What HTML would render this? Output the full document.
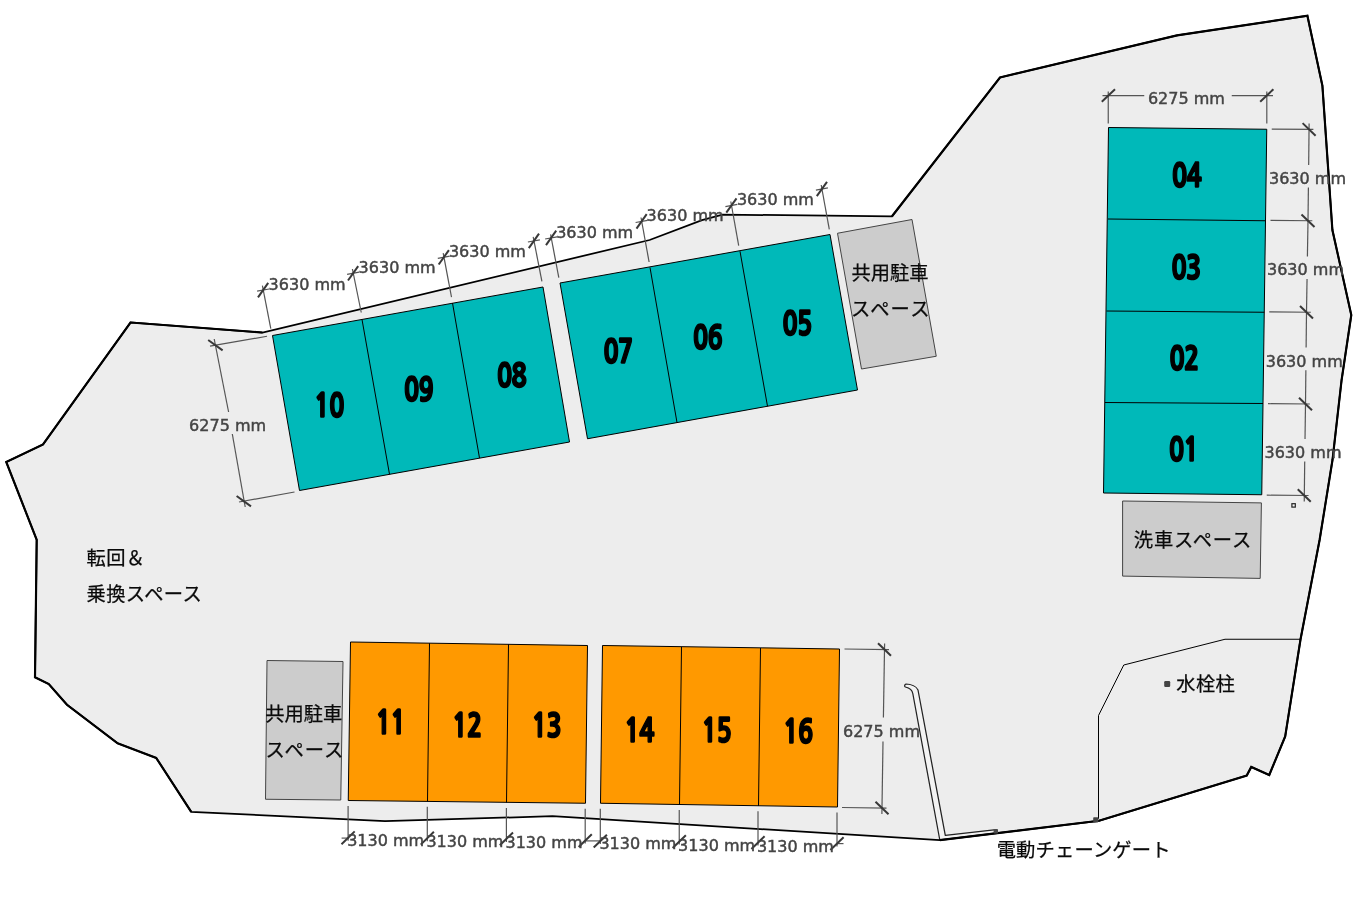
<!DOCTYPE html>
<html lang="ja">
<head>
<meta charset="utf-8">
<title>駐車場 配置図</title>
<style>
html,body{margin:0;padding:0;background:#fff;}
body{width:1370px;height:904px;overflow:hidden;}
svg{display:block;will-change:transform;}
.num{font-family:"NanumGothic","Liberation Sans",sans-serif;font-weight:800;font-size:33.3px;letter-spacing:-0.6px;fill:#000;stroke:#000;stroke-width:1.6px;stroke-linejoin:round;text-anchor:middle;}
.dim{font-family:"DejaVu Sans","Liberation Sans",sans-serif;font-size:16px;fill:#444;stroke:#444;stroke-width:0.45px;}
.jp{font-family:"Liberation Sans","Noto Sans CJK JP",sans-serif;font-size:19.3px;letter-spacing:0.4px;fill:#0a0a0a;stroke:#0a0a0a;stroke-width:0.25px;}
.thin{stroke:#000;stroke-width:1;fill:none;}
.dl{stroke:#555;stroke-width:1.2;fill:none;}
.tk{stroke:#383838;stroke-width:2;fill:none;}
</style>
</head>
<body>
<svg width="1370" height="904" viewBox="0 0 1370 904">
<polygon points="1307.4,15.8 1322.4,85.7 1332.4,230 1351.3,315 1341.6,380 1332.5,460 1319.6,540 1300.5,639.5 1285.2,736.4 1269.25,775 1251.25,767 1246.75,775.5 1098.9,820.8 939.8,840.1 552.5,816.25 385,821 191.2,811.8 156.2,757.9 117.6,743.3 67,704.75 48.75,684 35,677.25 36.7,539.8 6.25,462 43,444.5 130.5,322.5 262.5,332.5 649.6,240 702,220.2 722.5,214.6 892,216.25 1000,77.5 1177,35.4" fill="#ededed" stroke="none"/>
<polyline class="thin" points="1301,639.25 1225,639.25 1123.75,665 1098.5,715.5 1098.5,818.75"/>
<path d="M939.8,840 L912.8,693.5 C912.3,690.5 909.5,688 905.4,687 C904.2,686.6 904.6,684 906,684 C911,684.3 916.5,686.5 918,690 L945.3,835.3 L994,829.9 L996,832.8 Z" fill="#f3f3f3" stroke="none"/>
<path d="M939.8,840 L912.8,693.5 C912.3,690.5 909.5,688 905.4,687 C904.2,686.6 904.6,684 906,684 C911,684.3 916.5,686.5 918,690 L945.3,835.3 L994,829.9" fill="none" stroke="#222" stroke-width="1.25" stroke-linejoin="round"/>
<polygon points="1307.4,15.8 1322.4,85.7 1332.4,230 1351.3,315 1341.6,380 1332.5,460 1319.6,540 1300.5,639.5 1285.2,736.4 1269.25,775 1251.25,767 1246.75,775.5 1098.9,820.8 939.8,840.1 552.5,816.25 385,821 191.2,811.8 156.2,757.9 117.6,743.3 67,704.75 48.75,684 35,677.25 36.7,539.8 6.25,462 43,444.5 130.5,322.5 262.5,332.5 649.6,240 702,220.2 722.5,214.6 892,216.25 1000,77.5 1177,35.4" fill="none" stroke="#000" stroke-width="1.75" stroke-linejoin="miter"/>
<polyline points="191.2,811.8 156.2,757.9 117.6,743.3 67,704.75 48.75,684 35,677.25 36.7,539.8 6.25,462 43,444.5 130.5,322.5 262.5,332.5" fill="none" stroke="#000" stroke-width="2.15" stroke-linejoin="miter" stroke-linecap="butt"/>
<polyline points="892,216.25 1000,77.5 1177,35.4 1307.4,15.8 1322.4,85.7 1332.4,230 1351.3,315 1341.6,380 1332.5,460 1319.6,540 1300.5,639.5 1285.2,736.4 1269.25,775 1251.25,767 1246.75,775.5 1098.9,820.8 939.8,840.1" fill="none" stroke="#000" stroke-width="2.15" stroke-linejoin="miter" stroke-linecap="butt"/>
<rect x="993.6" y="829" width="4.4" height="4.6" rx="0.8" fill="#4a4a4a"/>
<rect x="1093.2" y="817.2" width="5.2" height="5.2" rx="0.8" fill="#444"/>
<rect x="1164.2" y="681" width="6" height="6" rx="1.2" fill="#444"/>
<rect x="1291.9" y="503.7" width="3.4" height="3.4" fill="#f4f4f4" stroke="#222" stroke-width="1.2"/>
<polygon points="272.5,335.5 543,287 569.5,442 299.5,490.5" fill="#00b9b9" stroke="#000" stroke-width="1"/>
<line class="thin" x1="362" y1="319.5" x2="389.5" y2="474.25"/>
<line class="thin" x1="452.5" y1="303" x2="479.5" y2="458"/>
<polygon points="560,283 830,234.5 857.5,390 587.5,438.75" fill="#00b9b9" stroke="#000" stroke-width="1"/>
<line class="thin" x1="650" y1="267.5" x2="677" y2="422.5"/>
<line class="thin" x1="740" y1="251.25" x2="767.5" y2="406.25"/>
<polygon points="1108.5,127.5 1266.75,129.25 1261.75,494.75 1103.5,493" fill="#00b9b9" stroke="#000" stroke-width="1"/>
<line class="thin" x1="1108" y1="219" x2="1265.5" y2="220.75"/>
<line class="thin" x1="1106.5" y1="311" x2="1264.25" y2="312.25"/>
<line class="thin" x1="1105" y1="402.5" x2="1263" y2="403.5"/>
<polygon points="350.5,642 587.5,645.5 585.5,803.25 348.25,800.5" fill="#ff9900" stroke="#000" stroke-width="1"/>
<line class="thin" x1="429.5" y1="643.25" x2="427.5" y2="801.25"/>
<line class="thin" x1="508.5" y1="644.25" x2="506.5" y2="802.5"/>
<polygon points="602.5,645.5 839.5,649 837.5,807 600.5,803.25" fill="#ff9900" stroke="#000" stroke-width="1"/>
<line class="thin" x1="681.5" y1="647" x2="679.5" y2="804.5"/>
<line class="thin" x1="760.5" y1="648" x2="758.5" y2="805.75"/>
<polygon points="837.5,233.25 912,219.5 936.25,356.25 861.5,369" fill="#cccccc" stroke="#444" stroke-width="1"/>
<polygon points="267,660.5 343,661.5 340.75,800 265.5,799.25" fill="#cccccc" stroke="#444" stroke-width="1"/>
<polygon points="1122.6,501 1261.4,502.9 1260.2,578.4 1122.6,576.1" fill="#cccccc" stroke="#444" stroke-width="1"/>
<text class="num" transform="translate(329 416.5) scale(0.757 1)">10</text>
<text class="num" transform="translate(418.5 400.6) scale(0.757 1)">09</text>
<text class="num" transform="translate(511.5 386.5) scale(0.757 1)">08</text>
<text class="num" transform="translate(618 362.5) scale(0.757 1)">07</text>
<text class="num" transform="translate(707.5 348.5) scale(0.757 1)">06</text>
<text class="num" transform="translate(797 334.6) scale(0.757 1)">05</text>
<text class="num" transform="translate(1186.5 186.6) scale(0.757 1)">04</text>
<text class="num" transform="translate(1186 278.5) scale(0.757 1)">03</text>
<text class="num" transform="translate(1184 369.95) scale(0.757 1)">02</text>
<text class="num" transform="translate(1183.5 460.6) scale(0.757 1)">01</text>
<text class="num" transform="translate(390.5 733.95) scale(0.757 1)">11</text>
<text class="num" transform="translate(467 736.8) scale(0.757 1)">12</text>
<text class="num" transform="translate(546.5 736.8) scale(0.757 1)">13</text>
<text class="num" transform="translate(639.2 741.5) scale(0.757 1)">14</text>
<text class="num" transform="translate(716.5 741.8) scale(0.757 1)">15</text>
<text class="num" transform="translate(798 742.95) scale(0.757 1)">16</text>
<line class="dl" x1="270.8" y1="328.6" x2="262.4" y2="285.7"/>
<line class="dl" x1="361.25" y1="312.5" x2="352.4" y2="269"/>
<line class="dl" x1="451.5" y1="297.1" x2="443.2" y2="253.2"/>
<line class="dl" x1="541.9" y1="281.3" x2="533.2" y2="236.9"/>
<line class="dl" x1="558.8" y1="277.7" x2="550.6" y2="234.3"/>
<line class="dl" x1="649.1" y1="262" x2="641" y2="217.5"/>
<line class="dl" x1="738.7" y1="245.6" x2="730.8" y2="201.5"/>
<line class="dl" x1="829.3" y1="229.3" x2="821.2" y2="185"/>
<line class="dl" x1="257.1" y1="291.2" x2="269.1" y2="289"/>
<line class="tk" x1="258" y1="297.3" x2="268.2" y2="282.9"/>
<line class="dl" x1="347.1" y1="274.4" x2="359.1" y2="272.2"/>
<line class="tk" x1="348" y1="280.5" x2="358.2" y2="266.1"/>
<line class="dl" x1="437.8" y1="258.4" x2="449.8" y2="256.2"/>
<line class="tk" x1="438.7" y1="264.5" x2="448.9" y2="250.1"/>
<line class="dl" x1="527.9" y1="242" x2="539.9" y2="239.8"/>
<line class="tk" x1="528.8" y1="248.1" x2="539" y2="233.7"/>
<line class="dl" x1="545.1" y1="239" x2="557.1" y2="236.8"/>
<line class="tk" x1="546" y1="245.1" x2="556.2" y2="230.7"/>
<line class="dl" x1="635.6" y1="222.5" x2="647.6" y2="220.3"/>
<line class="tk" x1="636.5" y1="228.6" x2="646.7" y2="214.2"/>
<line class="dl" x1="725.4" y1="206.6" x2="737.4" y2="204.4"/>
<line class="tk" x1="726.3" y1="212.7" x2="736.5" y2="198.3"/>
<line class="dl" x1="815.9" y1="190.1" x2="827.9" y2="187.9"/>
<line class="tk" x1="816.8" y1="196.2" x2="827" y2="181.8"/>
<text class="dim" x="268.6" y="289.6">3630 mm</text>
<text class="dim" x="358.6" y="273">3630 mm</text>
<text class="dim" x="448.9" y="256.8">3630 mm</text>
<text class="dim" x="556.2" y="237.5">3630 mm</text>
<text class="dim" x="646.6" y="220.9">3630 mm</text>
<text class="dim" x="736.9" y="205">3630 mm</text>
<line class="dl" x1="267" y1="336.25" x2="210" y2="346.2"/>
<line class="dl" x1="294.5" y1="492" x2="239" y2="502"/>
<line class="dl" x1="214.2" y1="339" x2="228.6" y2="412"/>
<line class="dl" x1="232.3" y1="434" x2="245.2" y2="507"/>
<line class="tk" x1="208.2" y1="340" x2="222.6" y2="350.4"/>
<line class="tk" x1="236.6" y1="496" x2="251" y2="506.4"/>
<text class="dim" x="189.1" y="431">6275 mm</text>
<line class="dl" x1="1108.25" y1="123.4" x2="1108.25" y2="91.5"/>
<line class="dl" x1="1266.8" y1="123.4" x2="1266.8" y2="91.5"/>
<line class="dl" x1="1102.5" y1="95.6" x2="1144.25" y2="95.6"/>
<line class="dl" x1="1231.75" y1="95.6" x2="1273" y2="95.6"/>
<line class="tk" x1="1101.8" y1="101.7" x2="1115" y2="89.3"/>
<line class="tk" x1="1260.2" y1="101.7" x2="1273.4" y2="89.3"/>
<text class="dim" x="1147.9" y="103.75">6275 mm</text>
<line class="dl" x1="1271.75" y1="129.1" x2="1313.4" y2="129.4"/>
<line class="dl" x1="1270.5" y1="220.45" x2="1312.3" y2="220.75"/>
<line class="dl" x1="1269.25" y1="311.95" x2="1310.8" y2="312.25"/>
<line class="dl" x1="1268" y1="403.7" x2="1309.8" y2="404"/>
<line class="dl" x1="1266.75" y1="495.2" x2="1308.55" y2="495.5"/>
<line class="dl" x1="1309.1" y1="123.4" x2="1308.67" y2="165"/>
<line class="dl" x1="1308.4" y1="187.5" x2="1308" y2="220.75"/>
<line class="dl" x1="1308" y1="220.75" x2="1307.41" y2="256.5"/>
<line class="dl" x1="1307.05" y1="279" x2="1306.5" y2="312.25"/>
<line class="dl" x1="1306.5" y1="312.25" x2="1306.12" y2="347.5"/>
<line class="dl" x1="1305.87" y1="370.2" x2="1305.5" y2="404"/>
<line class="dl" x1="1305.5" y1="404" x2="1305.02" y2="439"/>
<line class="dl" x1="1304.71" y1="461.5" x2="1304.25" y2="501.5"/>
<line class="tk" x1="1302.6" y1="123.1" x2="1315.6" y2="135.7"/>
<line class="tk" x1="1301.5" y1="214.45" x2="1314.5" y2="227.05"/>
<line class="tk" x1="1300" y1="305.95" x2="1313" y2="318.55"/>
<line class="tk" x1="1299" y1="397.7" x2="1312" y2="410.3"/>
<line class="tk" x1="1297.75" y1="489.2" x2="1310.75" y2="501.8"/>
<text class="dim" x="1269" y="183.75">3630 mm</text>
<text class="dim" x="1267" y="275">3630 mm</text>
<text class="dim" x="1265.75" y="366.5">3630 mm</text>
<text class="dim" x="1264.5" y="458">3630 mm</text>
<line class="dl" x1="348.1" y1="806" x2="348.1" y2="840.8"/>
<line class="dl" x1="427.3" y1="806.75" x2="427.3" y2="841.2"/>
<line class="dl" x1="506.4" y1="808" x2="506.4" y2="841.9"/>
<line class="dl" x1="585.2" y1="808.75" x2="585.2" y2="843.6"/>
<line class="dl" x1="600.3" y1="808.75" x2="600.3" y2="844.1"/>
<line class="dl" x1="679.25" y1="810" x2="679.25" y2="844.6"/>
<line class="dl" x1="758" y1="811.25" x2="758" y2="845.6"/>
<line class="dl" x1="837" y1="812.5" x2="837" y2="846.6"/>
<line class="dl" x1="341.6" y1="838.1" x2="349.1" y2="838.1"/>
<line class="dl" x1="585.2" y1="840.9" x2="600.3" y2="840.9"/>
<line class="dl" x1="836" y1="843.6" x2="843.5" y2="843.6"/>
<line class="tk" x1="341.5" y1="844.2" x2="354.7" y2="831.4"/>
<line class="tk" x1="420.7" y1="844.6" x2="433.9" y2="831.8"/>
<line class="tk" x1="499.8" y1="845.3" x2="513" y2="832.5"/>
<line class="tk" x1="578.6" y1="847" x2="591.8" y2="834.2"/>
<line class="tk" x1="593.7" y1="847.5" x2="606.9" y2="834.7"/>
<line class="tk" x1="672.65" y1="848" x2="685.85" y2="835.2"/>
<line class="tk" x1="751.4" y1="849" x2="764.6" y2="836.2"/>
<line class="tk" x1="830.4" y1="850" x2="843.6" y2="837.2"/>
<text class="dim" x="347.2" y="845.6">3130 mm</text>
<text class="dim" x="426.4" y="847">3130 mm</text>
<text class="dim" x="505.5" y="848">3130 mm</text>
<text class="dim" x="599.4" y="849.3">3130 mm</text>
<text class="dim" x="678.1" y="850.5">3130 mm</text>
<text class="dim" x="756.9" y="851.8">3130 mm</text>
<line class="dl" x1="844.5" y1="649" x2="889" y2="649.6"/>
<line class="dl" x1="842" y1="807.5" x2="886.5" y2="808.1"/>
<line class="dl" x1="884.6" y1="643.5" x2="883.4" y2="717.5"/>
<line class="dl" x1="883" y1="741.5" x2="881.9" y2="814"/>
<line class="tk" x1="878" y1="643.2" x2="891" y2="655.8"/>
<line class="tk" x1="875.5" y1="801.7" x2="888.5" y2="814.3"/>
<text class="dim" x="843" y="737">6275 mm</text>
<text class="jp" x="851.5" y="280.4" style="letter-spacing:0px">共用駐車</text>
<text class="jp" x="851" y="315.75" style="letter-spacing:1.2px">スペース</text>
<text class="jp" x="265.25" y="721.1" style="letter-spacing:0px">共用駐車</text>
<text class="jp" x="265.5" y="757" style="letter-spacing:1.0px">スペース</text>
<text class="jp" x="86.5" y="564.75">転回＆</text>
<text class="jp" x="86.5" y="601">乗換スペース</text>
<text class="jp" x="1133.8" y="547" style="letter-spacing:0.8px">洗車スペース</text>
<text class="jp" x="1176.25" y="690.75">水栓柱</text>
<text class="jp" x="996.7" y="856.9" style="letter-spacing:0.15px">電動チェーンゲート</text>
</svg>
</body>
</html>
